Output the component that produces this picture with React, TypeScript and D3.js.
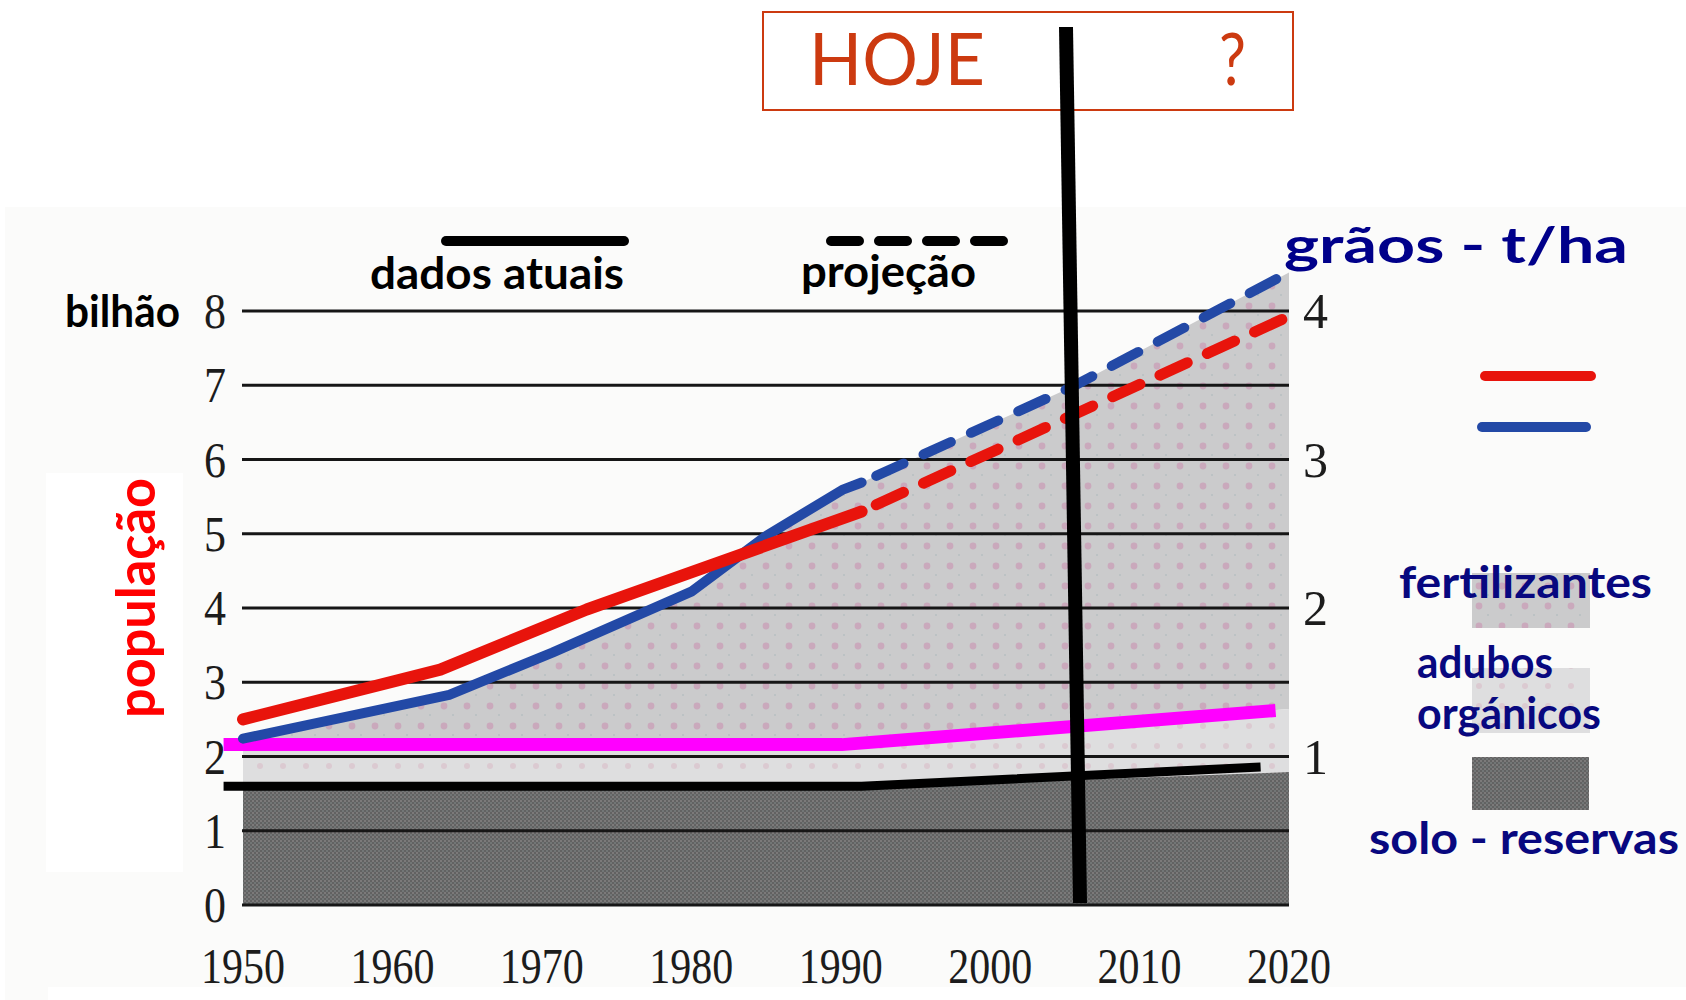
import React from 'react';
import * as d3 from 'd3';

// values (x = year, y = bilhão on the left axis)
const years = [1950, 1960, 1970, 1980, 1990, 2000, 2010, 2020];
const leftTicks = [0, 1, 2, 3, 4, 5, 6, 7, 8];
const rightTicks = [1, 2, 3, 4];

const populacaoReal: [number, number][] = [[1950, 2.5], [1963.2, 3.17], [1973, 3.98], [1991.4, 5.3]];
const populacaoProj: [number, number][] = [[1991.4, 5.3], [2020, 7.93]];
const graosReal: [number, number][] = [[1950, 2.24], [1963.8, 2.83], [1970.7, 3.4], [1980, 4.22], [1985, 4.97], [1990.1, 5.59], [1991.4, 5.69]];
const graosProj: [number, number][] = [[1991.4, 5.69], [2005.5, 6.98], [2020, 8.52]];
const adubosLinha: [number, number][] = [[1948.7, 2.16], [1990.1, 2.16], [2019.1, 2.62]];
const soloLinha: [number, number][] = [[1948.7, 1.6], [1991.4, 1.6], [2018.1, 1.86]];
const soloArea: [number, number][] = [[1950, 1.58], [1991, 1.58], [2020, 1.79]];
const adubosArea: [number, number][] = [[1950, 2.16], [1990.1, 2.16], [2020, 2.64]];

const W = 1686;
const H = 1000;
const comic = "'Comic Sans MS', Lato, sans-serif";
const serif = "'Liberation Serif', 'Times New Roman', serif";
const navy = '#08087f';

export default function App() {
  const x = d3.scaleLinear().domain([1950, 2020]).range([243, 1289]);
  const y = d3.scaleLinear().domain([0, 8]).range([905, 311]);
  const yR = d3.scaleLinear().domain([0, 4]).range([905, 311]);

  const line = d3.line<[number, number]>().x(d => x(d[0])).y(d => y(d[1]));
  const band = (top: [number, number][], bottom: [number, number][]) =>
    line([...top, ...bottom.slice().reverse()]) + 'Z';

  const graosTopo = [...graosReal, ...graosProj.slice(1)];
  const chao: [number, number][] = [[1950, 0], [2020, 0]];
  const [x0, x1] = x.range();

  return (
    <svg width={W} height={H} style={{ position: 'absolute', left: 0, top: 0, background: '#fff' }}>
      <defs>
        <pattern id="solo" width="4" height="4" patternUnits="userSpaceOnUse">
          <rect width="4" height="4" fill="#626262" />
          <rect width="2" height="2" fill="#7c7a7a" />
          <rect x="2" y="2" width="2" height="2" fill="#727676" />
        </pattern>
        <pattern id="fert" width="23" height="20" patternUnits="userSpaceOnUse">
          <rect width="23" height="20" fill="#cbcbcc" />
          <circle cx="7" cy="6" r="3.4" fill="#c99ab6" opacity="0.7" />
          <rect x="15" y="14" width="2" height="2" fill="#bcc2c4" />
        </pattern>
        <pattern id="org" width="23" height="20" patternUnits="userSpaceOnUse">
          <rect width="23" height="20" fill="#dededf" />
          <circle cx="7" cy="6" r="3" fill="#d8bcc8" opacity="0.6" />
        </pattern>
        <clipPath id="plot">
          <rect x={x0} y={0} width={x1 - x0} height={y(0)} />
        </clipPath>
      </defs>

      {/* scanned page backdrop */}
      <rect x={5} y={207} width={W - 5} height={H - 207} fill="#fbfbfa" />
      <rect x={46} y={473} width={137} height={399} fill="#fff" />
      <rect x={48} y={987} width={W - 48} height={13} fill="#fff" />

      {/* stacked bands */}
      <g clipPath="url(#plot)">
        <path d={band(graosTopo, adubosArea)} fill="url(#fert)" />
        <path d={band(adubosArea, soloArea)} fill="url(#org)" />
        <path d={band(soloArea, chao)} fill="url(#solo)" />
      </g>

      {/* gridlines */}
      {leftTicks.map(t => (
        <line key={t} x1={x0 - 1} x2={x1} y1={y(t)} y2={y(t)} stroke="#161616" strokeWidth={3} />
      ))}

      {/* left axis */}
      {leftTicks.map(t => (
        <text key={t} x={226} y={y(t) + 17} textAnchor="end" fontFamily={serif} fontSize={50}
          textLength={22} lengthAdjust="spacingAndGlyphs" fill="#1c1c1c">{t}</text>
      ))}
      {/* right axis */}
      {rightTicks.map(t => (
        <text key={t} x={1303} y={yR(t) + 17} fontFamily={serif} fontSize={50}
          textLength={25} lengthAdjust="spacingAndGlyphs" fill="#1c1c1c">{t}</text>
      ))}
      {/* x axis */}
      {years.map(t => (
        <text key={t} x={x(t)} y={983} textAnchor="middle" fontFamily={serif} fontSize={50}
          textLength={84} lengthAdjust="spacingAndGlyphs" fill="#1c1c1c">{t}</text>
      ))}

      {/* series */}
      <path d={line(soloLinha)!} fill="none" stroke="#000" strokeWidth={9} />
      <path d={line(adubosLinha)!} fill="none" stroke="#ff00ff" strokeWidth={13} />
      <path d={line(graosReal)!} fill="none" stroke="#2349a6" strokeWidth={10} strokeLinecap="round" strokeLinejoin="round" />
      <path d={line(populacaoReal)!} fill="none" stroke="#e8140c" strokeWidth={12} strokeLinecap="round" strokeLinejoin="round" />
      <path d={line(graosProj)!} fill="none" stroke="#2349a6" strokeWidth={10} strokeLinecap="round"
        strokeDasharray="30 22" strokeDashoffset={-16} />
      <path d={line(populacaoProj)!} fill="none" stroke="#e8140c" strokeWidth={11} strokeLinecap="round"
        strokeDasharray="30 22" strokeDashoffset={-16} />

      {/* top key */}
      <line x1={446} x2={624} y1={241} y2={241} stroke="#000" strokeWidth={10} strokeLinecap="round" />
      <line x1={831} x2={1005} y1={241} y2={241} stroke="#000" strokeWidth={10} strokeLinecap="round" strokeDasharray="28 20" />
      <text x={370} y={289} fontFamily={comic} fontWeight="bold" fontSize={44} textLength={254}
        lengthAdjust="spacingAndGlyphs" fill="#000">dados atuais</text>
      <text x={801} y={287} fontFamily={comic} fontWeight="bold" fontSize={44} textLength={175}
        lengthAdjust="spacingAndGlyphs" fill="#000">projeção</text>
      <text x={65} y={327} fontFamily={comic} fontWeight="bold" fontSize={44} textLength={115}
        lengthAdjust="spacingAndGlyphs" fill="#000">bilhão</text>
      <text x={1284} y={263} fontFamily={comic} fontWeight="bold" fontSize={50} textLength={344}
        lengthAdjust="spacingAndGlyphs" fill="#00008a">grãos - t/ha</text>
      <text transform="translate(155,598) rotate(-90)" textAnchor="middle" fontFamily={comic}
        fontWeight="bold" fontSize={54} textLength={240} lengthAdjust="spacingAndGlyphs" fill="#ff0000">população</text>

      {/* right legend */}
      <line x1={1485} x2={1591} y1={376} y2={376} stroke="#e8140c" strokeWidth={10} strokeLinecap="round" />
      <line x1={1482} x2={1586} y1={427} y2={427} stroke="#2349a6" strokeWidth={10} strokeLinecap="round" />
      <rect x={1472} y={573} width={118} height={55} fill="url(#fert)" />
      <rect x={1472} y={668} width={118} height={65} fill="url(#org)" />
      <rect x={1472} y={757} width={117} height={53} fill="url(#solo)" />
      <text x={1399} y={598} fontFamily={comic} fontWeight="bold" fontSize={44} textLength={253}
        lengthAdjust="spacingAndGlyphs" fill={navy}>fertilizantes</text>
      <text x={1417} y={678} fontFamily={comic} fontWeight="bold" fontSize={44} textLength={136}
        lengthAdjust="spacingAndGlyphs" fill={navy}>adubos</text>
      <text x={1417} y={729} fontFamily={comic} fontWeight="bold" fontSize={44} textLength={184}
        lengthAdjust="spacingAndGlyphs" fill={navy}>orgánicos</text>
      <text x={1369} y={854} fontFamily={comic} fontWeight="bold" fontSize={44} textLength={310}
        lengthAdjust="spacingAndGlyphs" fill={navy}>solo - reservas</text>

      {/* HOJE box and divider */}
      <rect x={763} y={12} width={530} height={98} fill="#fff" stroke="#cc3a10" strokeWidth={2} />
      <text x={809} y={85} fontFamily={comic} fontSize={72} textLength={176}
        lengthAdjust="spacingAndGlyphs" fill="#cc3a10">HOJE</text>
      <text x={1219} y={85} fontFamily={comic} fontSize={72} textLength={27}
        lengthAdjust="spacingAndGlyphs" fill="#cc3a10">?</text>
      <line x1={1066} y1={27} x2={1080} y2={903} stroke="#000" strokeWidth={14} />
    </svg>
  );
}
